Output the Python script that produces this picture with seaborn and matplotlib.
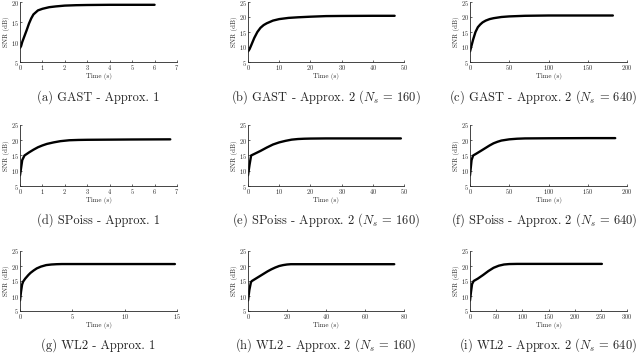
import numpy as np
import pandas as pd
import seaborn as sns
import matplotlib.pyplot as plt

# 読み取った値 (時間 [s], SNR [dB])
t_a = [0, 0.05, 0.1, 0.2, 0.3, 0.4, 0.5, 0.6, 0.8, 1.0, 1.3, 1.6, 2.0, 2.5, 3.0, 4.0, 5.0, 6.0]
snr_a = [8.5, 9.0, 10.0, 11.5, 13.0, 14.6, 15.9, 16.9, 17.9, 18.3, 18.7, 18.9, 19.1, 19.2, 19.25, 19.3, 19.3, 19.3]

t_b = [0, 0.5, 1, 2, 3, 4, 5, 6, 8, 10, 13, 16, 20, 25, 30, 40, 47]
snr_b = [8.5, 9.3, 10.5, 13.0, 15.0, 16.4, 17.3, 17.9, 18.8, 19.3, 19.7, 19.9, 20.1, 20.3, 20.35, 20.4, 20.4]

t_c = [0, 2, 4, 7, 10, 13, 16, 20, 25, 30, 40, 50, 70, 100, 140, 182]
snr_c = [8.5, 10.5, 12.5, 15.0, 16.6, 17.5, 18.2, 18.8, 19.3, 19.6, 20.0, 20.2, 20.4, 20.5, 20.5, 20.5]

t_d = [0, 0.05, 0.1, 0.2, 0.4, 0.6, 0.8, 1.0, 1.2, 1.5, 1.8, 2.2, 2.6, 3.0, 4.0, 5.0, 6.7]
snr_d = [8.5, 11.0, 13.5, 15.0, 16.0, 16.9, 17.7, 18.3, 18.8, 19.3, 19.7, 20.0, 20.1, 20.15, 20.2, 20.25, 20.3]

t_e = [0, 0.5, 1, 2, 4, 6, 8, 10, 12, 14, 16, 18, 20, 25, 30, 40, 49]
snr_e = [8.5, 12.0, 15.0, 15.5, 16.5, 17.6, 18.6, 19.3, 19.8, 20.2, 20.4, 20.5, 20.55, 20.6, 20.6, 20.6, 20.6]

t_f = [0, 1, 2, 4, 8, 15, 20, 25, 30, 35, 40, 50, 60, 70, 100, 150, 185]
snr_f = [8.5, 11.0, 13.5, 15.0, 15.6, 16.7, 17.5, 18.3, 19.0, 19.5, 19.9, 20.3, 20.5, 20.6, 20.65, 20.7, 20.7]

t_g = [0, 0.1, 0.2, 0.3, 0.5, 0.8, 1.0, 1.3, 1.6, 2.0, 2.5, 3.0, 3.5, 4.0, 6.0, 10.0, 14.8]
snr_g = [8.5, 11.5, 13.8, 14.8, 15.8, 17.0, 17.7, 18.5, 19.2, 19.8, 20.3, 20.5, 20.6, 20.65, 20.65, 20.65, 20.65]

t_h = [0, 0.7, 1.5, 2, 4, 6, 8, 10, 12, 14, 16, 18, 20, 22, 30, 50, 75]
snr_h = [8.5, 12.0, 14.6, 15.0, 15.8, 16.6, 17.4, 18.2, 18.9, 19.5, 20.0, 20.3, 20.5, 20.6, 20.6, 20.6, 20.6]

t_i = [0, 2, 4, 7, 15, 25, 35, 45, 55, 65, 75, 90, 110, 150, 200, 252]
snr_i = [8.5, 11.5, 14.0, 15.0, 15.8, 17.0, 18.3, 19.4, 20.1, 20.5, 20.65, 20.7, 20.7, 20.7, 20.7, 20.7]

captions = [
    "(a) GAST - Approx. 1",
    "(b) GAST - Approx. 2 ($N_s$ = 160)",
    "(c) GAST - Approx. 2 ($N_s$ = 640)",
    "(d) SPoiss - Approx. 1",
    "(e) SPoiss - Approx. 2 ($N_s$ = 160)",
    "(f) SPoiss - Approx. 2 ($N_s$ = 640)",
    "(g) WL2 - Approx. 1",
    "(h) WL2 - Approx. 2 ($N_s$ = 160)",
    "(i) WL2 - Approx. 2 ($N_s$ = 640)",
]
x_limits = [(0, 7), (0, 50), (0, 200), (0, 7), (0, 50), (0, 200), (0, 15), (0, 80), (0, 300)]
x_steps = [1, 10, 50, 1, 10, 50, 5, 20, 50]
y_limits = [(5, 20)] + [(5, 25)] * 8

series = [(t_a, snr_a), (t_b, snr_b), (t_c, snr_c),
          (t_d, snr_d), (t_e, snr_e), (t_f, snr_f),
          (t_g, snr_g), (t_h, snr_h), (t_i, snr_i)]

sns.set_style("ticks")
plt.rcParams['font.family'] = ['cmr10', 'DejaVu Serif']
plt.rcParams['mathtext.fontset'] = 'cm'
plt.rcParams['axes.formatter.use_mathtext'] = True

fig = plt.figure(figsize=(6.4, 3.53), dpi=100)

# 軸の配置 (ピクセル)
lefts = [20, 248, 470]
rights = [177, 404, 627]
tops = [2, 125, 251]
bottoms = [62, 186, 311]
caption_y = [97, 220, 345]
W, H = 640, 353

for k, (t, snr) in enumerate(series):
    r, c = divmod(k, 3)
    ax = fig.add_axes([lefts[c] / W, 1 - bottoms[r] / H,
                       (rights[c] - lefts[c]) / W, (bottoms[r] - tops[r]) / H])
    df = pd.DataFrame({"t": t, "snr": snr})
    sns.lineplot(data=df, x="t", y="snr", ax=ax, color="black", linewidth=1.7)
    ax.set_xlim(*x_limits[k])
    ax.set_ylim(*y_limits[k])
    ax.set_xticks(np.arange(x_limits[k][0], x_limits[k][1] + 0.01, x_steps[k]))
    ax.set_yticks(np.arange(y_limits[k][0], y_limits[k][1] + 0.01, 5))
    ax.tick_params(direction="in", length=1.5, width=0.5, labelsize=4.5, pad=1)
    for s in ["top", "right"]:
        ax.spines[s].set_visible(False)
    for s in ["left", "bottom"]:
        ax.spines[s].set_linewidth(0.6)
    ax.set_xlabel("Time (s)", fontsize=5, labelpad=0.5)
    ax.set_ylabel("SNR (dB)", fontsize=5, labelpad=0.5)
    # 3列目のキャプションは右端に合わせる
    if c == 2:
        fig.text(637 / W, 1 - caption_y[r] / H, captions[k],
                 ha="right", va="center", fontsize=9)
    else:
        fig.text((lefts[c] + rights[c]) / 2 / W, 1 - caption_y[r] / H, captions[k],
                 ha="center", va="center", fontsize=9)

fig.savefig("out.png", dpi=100)
